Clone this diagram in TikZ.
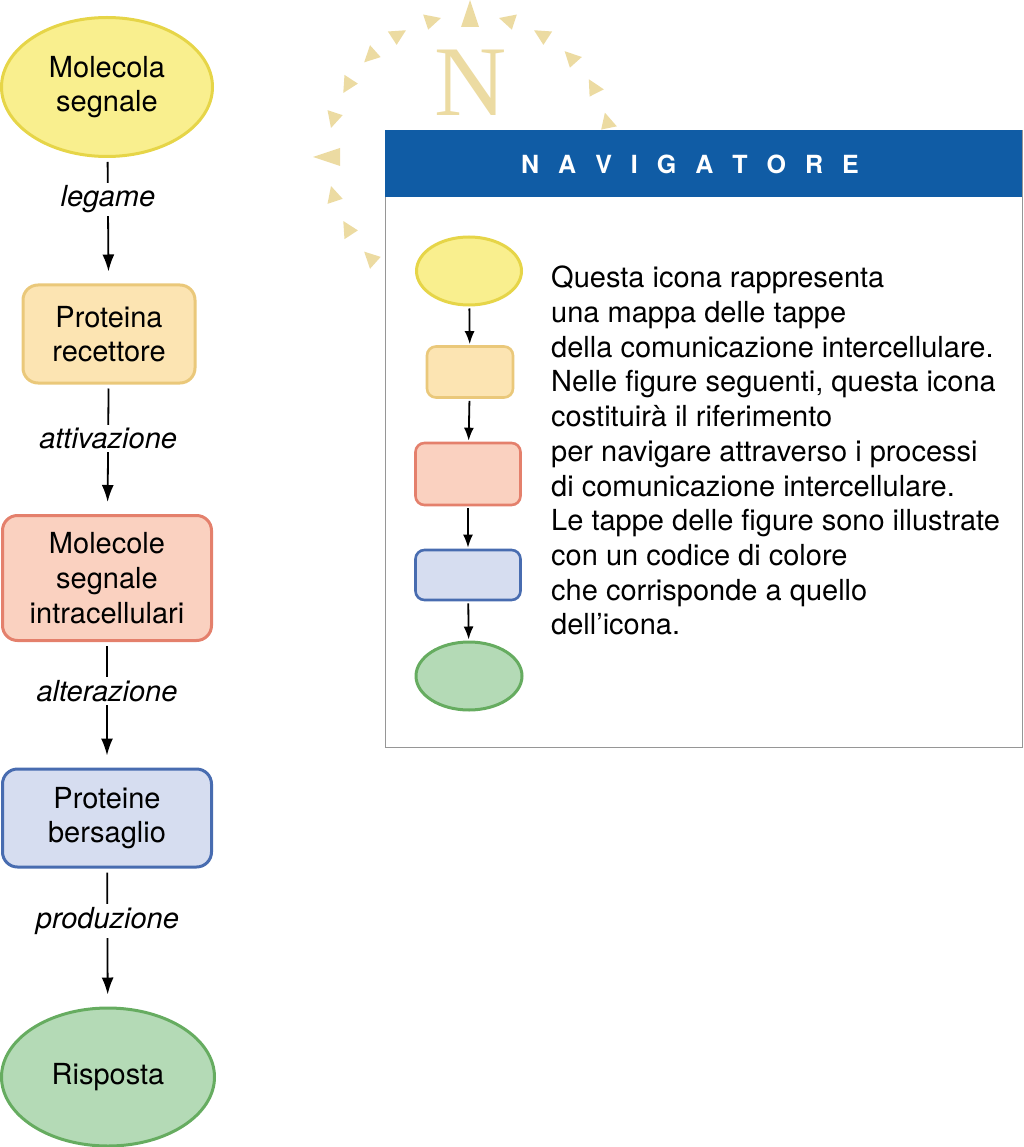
\documentclass[tikz,border=0pt]{standalone}
\usepackage{fontspec}
\setmainfont{TeX Gyre Heros}
\newfontfamily\serifN{Liberation Serif}
\usetikzlibrary{shapes, arrows, arrows.meta}

\definecolor{sigyellow}{RGB}{249,239,142}
\definecolor{sigyellowd}{RGB}{230,213,72}
\definecolor{recorange}{RGB}{252,228,178}
\definecolor{recoranged}{RGB}{234,200,122}
\definecolor{intsalmon}{RGB}{250,209,192}
\definecolor{intsalmond}{RGB}{228,128,108}
\definecolor{tarblue}{RGB}{214,221,240}
\definecolor{tarblued}{RGB}{72,108,176}
\definecolor{resgreen}{RGB}{180,218,182}
\definecolor{resgreend}{RGB}{102,172,96}
\definecolor{navblue}{RGB}{16,92,165}
\definecolor{compass}{RGB}{236,219,162}
\definecolor{boxgray}{RGB}{150,150,150}

\tikzset{
    oval/.style={ellipse, line width=3pt, inner sep=0pt, align=center},
    card/.style={rectangle, rounded corners=15pt, line width=3pt, inner sep=0pt, align=center},
    minicard/.style={rectangle, rounded corners=9pt, line width=2.6pt, inner sep=0pt},
    flow/.style={line width=1.8pt, -{Latex[length=17pt, width=12pt]}, shorten <=4pt, shorten >=12pt},
    miniflow/.style={line width=1.8pt, -{Latex[length=13pt, width=10pt]}, shorten <=2pt, shorten >=1pt},
    verb/.style={fill=white, inner sep=3pt, font=\fontsize{29}{34}\selectfont\itshape}
}

\begin{document}
\begin{tikzpicture}[x=1pt, y=-1pt, font=\fontsize{29}{34.7}\selectfont]
    \useasboundingbox (0,0) rectangle (1024,1147);

    \begin{scope}[shift={(470,157)}, y=1pt]
        \fill[compass] (0,157) -- (-9,130) -- (9,130) -- cycle;
        \fill[compass] (-157,0) -- (-130,9) -- (-130,-9) -- cycle;
        \foreach \a/\s in {15/1, 30/1, 45/1, 60/1, 75/1, 105/-1, 120/-1, 135/1, 150/1, 165/1, 195/-1, 210/-1, 225/-1, 240/-1}
            \fill[compass] (\a+\s*3.2:142) -- (\a-\s*3.2:134) -- (\a-\s*3.2:150) -- cycle;
    \end{scope}
    \node[font=\serifN\fontsize{100}{100}\selectfont, text=compass] (north) at (471,83) {N};

    \node[draw=boxgray, line width=1.2pt, fill=white, minimum width=637, minimum height=617, anchor=north west, inner sep=0pt] (nav) at (385,130) {};
    \node[fill=navblue, minimum width=637, minimum height=67, anchor=north west, inner sep=0pt] (head) at (385,130) {};
    \node[text=white, font=\fontsize{25}{25}\selectfont\bfseries] (title) at (690,164)
        {N\hskip19pt A\hskip19pt V\hskip19pt I\hskip19pt G\hskip19pt A\hskip19pt T\hskip19pt O\hskip19pt R\hskip19pt E};

    \node[oval, draw=sigyellowd, fill=sigyellow, minimum width=211, minimum height=139] (m1) at (107,87) {Molecola\\segnale};
    \node[card, draw=recoranged, fill=recorange, minimum width=172, minimum height=98] (m2) at (109,334) {Proteina\\recettore};
    \node[card, draw=intsalmond, fill=intsalmon, minimum width=209, minimum height=125] (m3) at (107,578) {Molecole\\segnale\\intracellulari};
    \node[card, draw=tarblued, fill=tarblue, minimum width=209, minimum height=98] (m4) at (107,818) {Proteine\\bersaglio};
    \node[oval, draw=resgreend, fill=resgreen, minimum width=213, minimum height=138] (m5) at (108,1077) {Risposta};

    \draw[flow] (m1) -- node[verb, pos=0.33] {legame} (m2);
    \draw[flow] (m2) -- node[verb, pos=0.42] {attivazione} (m3);
    \draw[flow] (m3) -- node[verb, pos=0.39] {alterazione} (m4);
    \draw[flow] (m4) -- node[verb, pos=0.38] {produzione} (m5);

    \node[oval, draw=sigyellowd, fill=sigyellow, minimum width=105, minimum height=68] (n1) at (469,271) {};
    \node[minicard, draw=recoranged, fill=recorange, minimum width=86, minimum height=51] (n2) at (470,372) {};
    \node[minicard, draw=intsalmond, fill=intsalmon, minimum width=105, minimum height=62] (n3) at (468,474) {};
    \node[minicard, draw=tarblued, fill=tarblue, minimum width=105, minimum height=50] (n4) at (468,575) {};
    \node[oval, draw=resgreend, fill=resgreen, minimum width=106, minimum height=68] (n5) at (469,676) {};

    \draw[miniflow] (n1) -- (n2);
    \draw[miniflow] (n2) -- (n3);
    \draw[miniflow] (n3) -- (n4);
    \draw[miniflow] (n4) -- (n5);

    \node[anchor=north west, align=left, inner sep=0pt] (info) at (551,266)
        {Questa icona rappresenta\\
         una mappa delle tappe\\
         della comunicazione intercellulare.\\
         Nelle figure seguenti, questa icona\\
         costituirà il riferimento\\
         per navigare attraverso i processi\\
         di comunicazione intercellulare.\\
         Le tappe delle figure sono illustrate\\
         con un codice di colore\\
         che corrisponde a quello\\
         dell’icona.};
\end{tikzpicture}
\end{document}
